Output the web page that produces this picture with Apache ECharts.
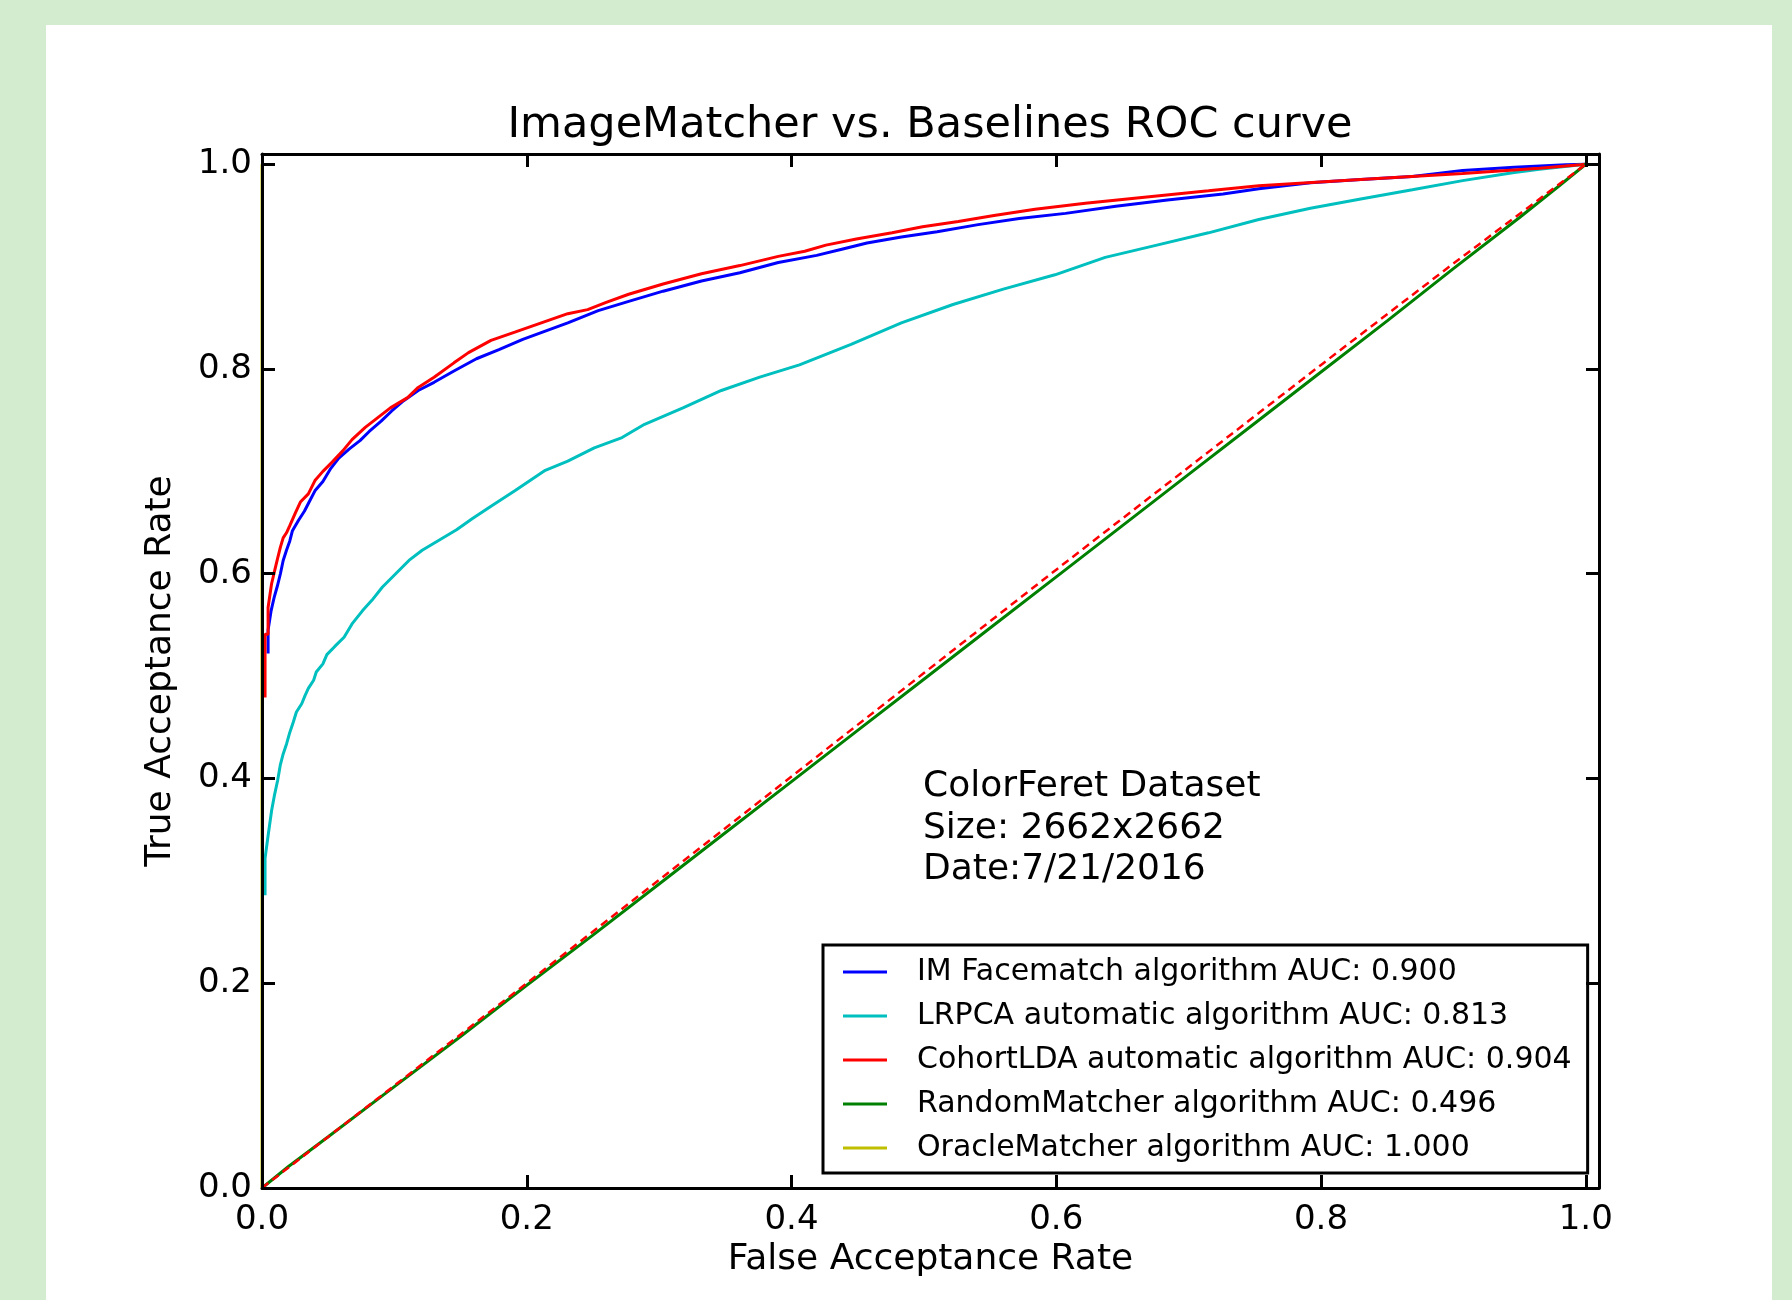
<!DOCTYPE html>
<html>
<head>
<meta charset="utf-8">
<title>ImageMatcher vs. Baselines ROC curve</title>
<script src="https://cdn.jsdelivr.net/npm/echarts@6.0.0/dist/echarts.min.js"></script>
<style>
    body {
        margin: 0;
        background: #d3ebcf;
    }
    #panel {
        position: absolute;
        left: 46px;
        top: 25px;
        width: 1726px;
        height: 1275px;
        background: #ffffff;
    }
    #main {
        position: absolute;
        left: 0;
        top: 0;
        width: 1792px;
        height: 1300px;
    }
</style>
</head>
<body>
<div id="panel"></div>
<div id="main"></div>
<script>
// ROC points (FAR on x, TAR on y)
const imFar = [0.0046, 0.0046, 0.0069, 0.0092, 0.0116, 0.0139, 0.016, 0.0185, 0.021, 0.023, 0.0275, 0.032, 0.036, 0.040, 0.046, 0.052, 0.058, 0.066, 0.074, 0.081, 0.090, 0.098, 0.107, 0.118, 0.130, 0.145, 0.162, 0.179, 0.197, 0.214, 0.231, 0.254, 0.277, 0.303, 0.332, 0.361, 0.390, 0.419, 0.438, 0.457, 0.483, 0.510, 0.541, 0.572, 0.607, 0.645, 0.684, 0.726, 0.753, 0.792, 0.830, 0.869, 0.907, 0.946, 0.985, 1.0];
const imTar = [0.522, 0.545, 0.564, 0.577, 0.588, 0.600, 0.613, 0.623, 0.632, 0.642, 0.652, 0.661, 0.671, 0.681, 0.690, 0.703, 0.713, 0.722, 0.730, 0.739, 0.749, 0.759, 0.769, 0.779, 0.787, 0.798, 0.810, 0.819, 0.829, 0.837, 0.845, 0.857, 0.866, 0.876, 0.886, 0.894, 0.904, 0.911, 0.917, 0.923, 0.929, 0.934, 0.941, 0.947, 0.952, 0.959, 0.965, 0.971, 0.976, 0.982, 0.985, 0.988, 0.994, 0.997, 0.9995, 1.0];

const lrpcaFar = [0.0023, 0.0023, 0.0048, 0.0073, 0.0093, 0.0118, 0.0138, 0.016, 0.0186, 0.021, 0.0236, 0.026, 0.030, 0.0325, 0.035, 0.039, 0.041, 0.046, 0.049, 0.055, 0.062, 0.068, 0.076, 0.083, 0.091, 0.101, 0.111, 0.121, 0.134, 0.147, 0.159, 0.173, 0.191, 0.214, 0.231, 0.251, 0.272, 0.289, 0.318, 0.347, 0.376, 0.406, 0.445, 0.483, 0.522, 0.560, 0.599, 0.637, 0.676, 0.715, 0.753, 0.792, 0.830, 0.869, 0.907, 0.946, 0.965, 1.0];
const lrpcaTar = [0.286, 0.322, 0.346, 0.369, 0.383, 0.398, 0.413, 0.424, 0.434, 0.445, 0.455, 0.465, 0.473, 0.481, 0.488, 0.496, 0.504, 0.512, 0.521, 0.529, 0.538, 0.551, 0.564, 0.574, 0.587, 0.600, 0.613, 0.623, 0.633, 0.643, 0.654, 0.666, 0.681, 0.701, 0.710, 0.723, 0.733, 0.746, 0.762, 0.779, 0.792, 0.804, 0.824, 0.845, 0.863, 0.878, 0.892, 0.909, 0.921, 0.933, 0.946, 0.957, 0.966, 0.975, 0.984, 0.992, 0.995, 1.0];

const cohortFar = [0.0023, 0.0023, 0.0046, 0.0046, 0.0072, 0.0092, 0.0116, 0.0139, 0.016, 0.0185, 0.021, 0.0254, 0.029, 0.035, 0.040, 0.046, 0.053, 0.061, 0.068, 0.078, 0.087, 0.097, 0.110, 0.118, 0.130, 0.145, 0.156, 0.173, 0.191, 0.211, 0.231, 0.246, 0.260, 0.277, 0.303, 0.332, 0.361, 0.390, 0.410, 0.426, 0.449, 0.476, 0.499, 0.526, 0.553, 0.584, 0.622, 0.661, 0.715, 0.753, 0.830, 0.907, 0.965, 0.996, 1.0];
const cohortTar = [0.479, 0.541, 0.541, 0.567, 0.590, 0.601, 0.614, 0.626, 0.635, 0.640, 0.647, 0.660, 0.670, 0.678, 0.691, 0.700, 0.709, 0.720, 0.731, 0.743, 0.752, 0.762, 0.772, 0.782, 0.792, 0.806, 0.816, 0.828, 0.836, 0.845, 0.854, 0.858, 0.865, 0.873, 0.883, 0.893, 0.901, 0.910, 0.915, 0.921, 0.927, 0.933, 0.939, 0.944, 0.950, 0.956, 0.962, 0.967, 0.974, 0.979, 0.985, 0.991, 0.996, 0.9995, 1.0];

const randomFar = [0, 0.02, 0.05, 0.1, 0.15, 0.2, 0.25, 0.3, 0.35, 0.4, 0.45, 0.5, 0.55, 0.6, 0.65, 0.7, 0.75, 0.8, 0.85, 0.9, 0.95, 0.98, 1.0];
const randomTar = [0, 0.021, 0.05, 0.099, 0.148, 0.198, 0.247, 0.297, 0.347, 0.397, 0.447, 0.497, 0.547, 0.597, 0.647, 0.697, 0.747, 0.797, 0.847, 0.898, 0.948, 0.979, 1.0];

// oracle jumps straight up the left spine, so it is hidden under it
const oracleFar = [0, 0];
const oracleTar = [0, 1];

// red dashed chance line
const chanceFar = [0, 0.1, 0.2, 0.3, 0.4, 0.5, 0.6, 0.7, 0.8, 0.9, 1.0];
const chanceTar = [0, 0.1, 0.2, 0.301, 0.402, 0.503, 0.604, 0.704, 0.804, 0.903, 1.0];

const seriesNames = [
    'IM Facematch algorithm AUC: 0.900',
    'LRPCA automatic algorithm AUC: 0.813',
    'CohortLDA automatic algorithm AUC: 0.904',
    'RandomMatcher algorithm AUC: 0.496',
    'OracleMatcher algorithm AUC: 1.000'
];
const tickValues = [0, 0.2, 0.4, 0.6, 0.8, 1.0];
const noteLines = ['ColorFeret Dataset', 'Size: 2662x2662', 'Date:7/21/2016'];

const font = 'DejaVu Sans';
const zip = (xs, ys) => xs.map((x, i) => [x, ys[i]]);

function makeAxis(position, withLabels) {
    return {
        type: 'value',
        position: position,
        min: 0,
        max: 1.01,
        z: 5,
        axisLine: { show: true, onZero: false, lineStyle: { color: '#000', width: 3 } },
        axisTick: {
            show: true,
            inside: true,
            length: 13,
            customValues: tickValues,
            lineStyle: { color: '#000', width: 3 }
        },
        axisLabel: {
            show: withLabels,
            customValues: tickValues,
            formatter: v => v.toFixed(1),
            fontFamily: font,
            fontSize: 34,
            color: '#000',
            margin: position === 'bottom' ? 15 : 10
        },
        splitLine: { show: false }
    };
}

function lineSeries(name, data, color, extra) {
    return Object.assign({
        name: name,
        type: 'line',
        data: data,
        symbol: 'none',
        smooth: false,
        lineStyle: { color: color, width: 3 },
        itemStyle: { color: color },
        emphasis: { disabled: true }
    }, extra || {});
}

const xBottom = makeAxis('bottom', true);
xBottom.name = 'False Acceptance Rate';
xBottom.nameLocation = 'middle';
xBottom.nameGap = 52;
xBottom.nameTextStyle = { fontFamily: font, fontSize: 36, color: '#000' };

const yLeft = makeAxis('left', true);
yLeft.name = 'True Acceptance Rate';
yLeft.nameLocation = 'middle';
yLeft.nameGap = 83;
yLeft.nameTextStyle = { fontFamily: font, fontSize: 36, color: '#000' };

const chartDom = document.getElementById('main');
const myChart = echarts.init(chartDom, null, { renderer: 'canvas' });

const option = {
    animation: false,
    backgroundColor: 'transparent',
    title: {
        text: 'ImageMatcher vs. Baselines ROC curve',
        left: 930,
        top: 104,
        padding: 0,
        textAlign: 'center',
        textStyle: { fontFamily: font, fontSize: 43, fontWeight: 'normal', color: '#000' }
    },
    grid: { left: 262, right: 193, top: 154, bottom: 112 },
    xAxis: [xBottom, makeAxis('top', false)],
    yAxis: [yLeft, makeAxis('right', false)],
    legend: {
        orient: 'vertical',
        left: 823,
        top: 945,
        padding: [12, 16, 10, 20],
        itemGap: 14,
        itemWidth: 44,
        itemHeight: 3,
        icon: 'rect',
        backgroundColor: '#fff',
        borderColor: '#000',
        borderWidth: 3,
        borderRadius: 0,
        selectedMode: false,
        z: 4,
        textStyle: {
            fontFamily: font,
            fontSize: 30,
            lineHeight: 30,
            color: '#000',
            padding: [0, 0, 0, 25]
        },
        data: seriesNames
    },
    graphic: [
        {
            type: 'text',
            left: 923,
            top: 766,
            style: {
                text: noteLines.join('\n'),
                fontFamily: font,
                fontSize: 36,
                lineHeight: 41.5,
                fill: '#000'
            }
        }
    ],
    series: [
        lineSeries(seriesNames[0], zip(imFar, imTar), '#0000ff'),
        lineSeries(seriesNames[1], zip(lrpcaFar, lrpcaTar), '#00bfbf'),
        lineSeries(seriesNames[2], zip(cohortFar, cohortTar), '#ff0000'),
        lineSeries(seriesNames[3], zip(randomFar, randomTar), '#008000'),
        lineSeries(seriesNames[4], zip(oracleFar, oracleTar), '#bfbf00'),
        lineSeries('chance', zip(chanceFar, chanceTar), '#ff0000', {
            lineStyle: { color: '#ff0000', width: 2.5, type: [8, 5] }
        })
    ]
};

option && myChart.setOption(option);
</script>
</body>
</html>
